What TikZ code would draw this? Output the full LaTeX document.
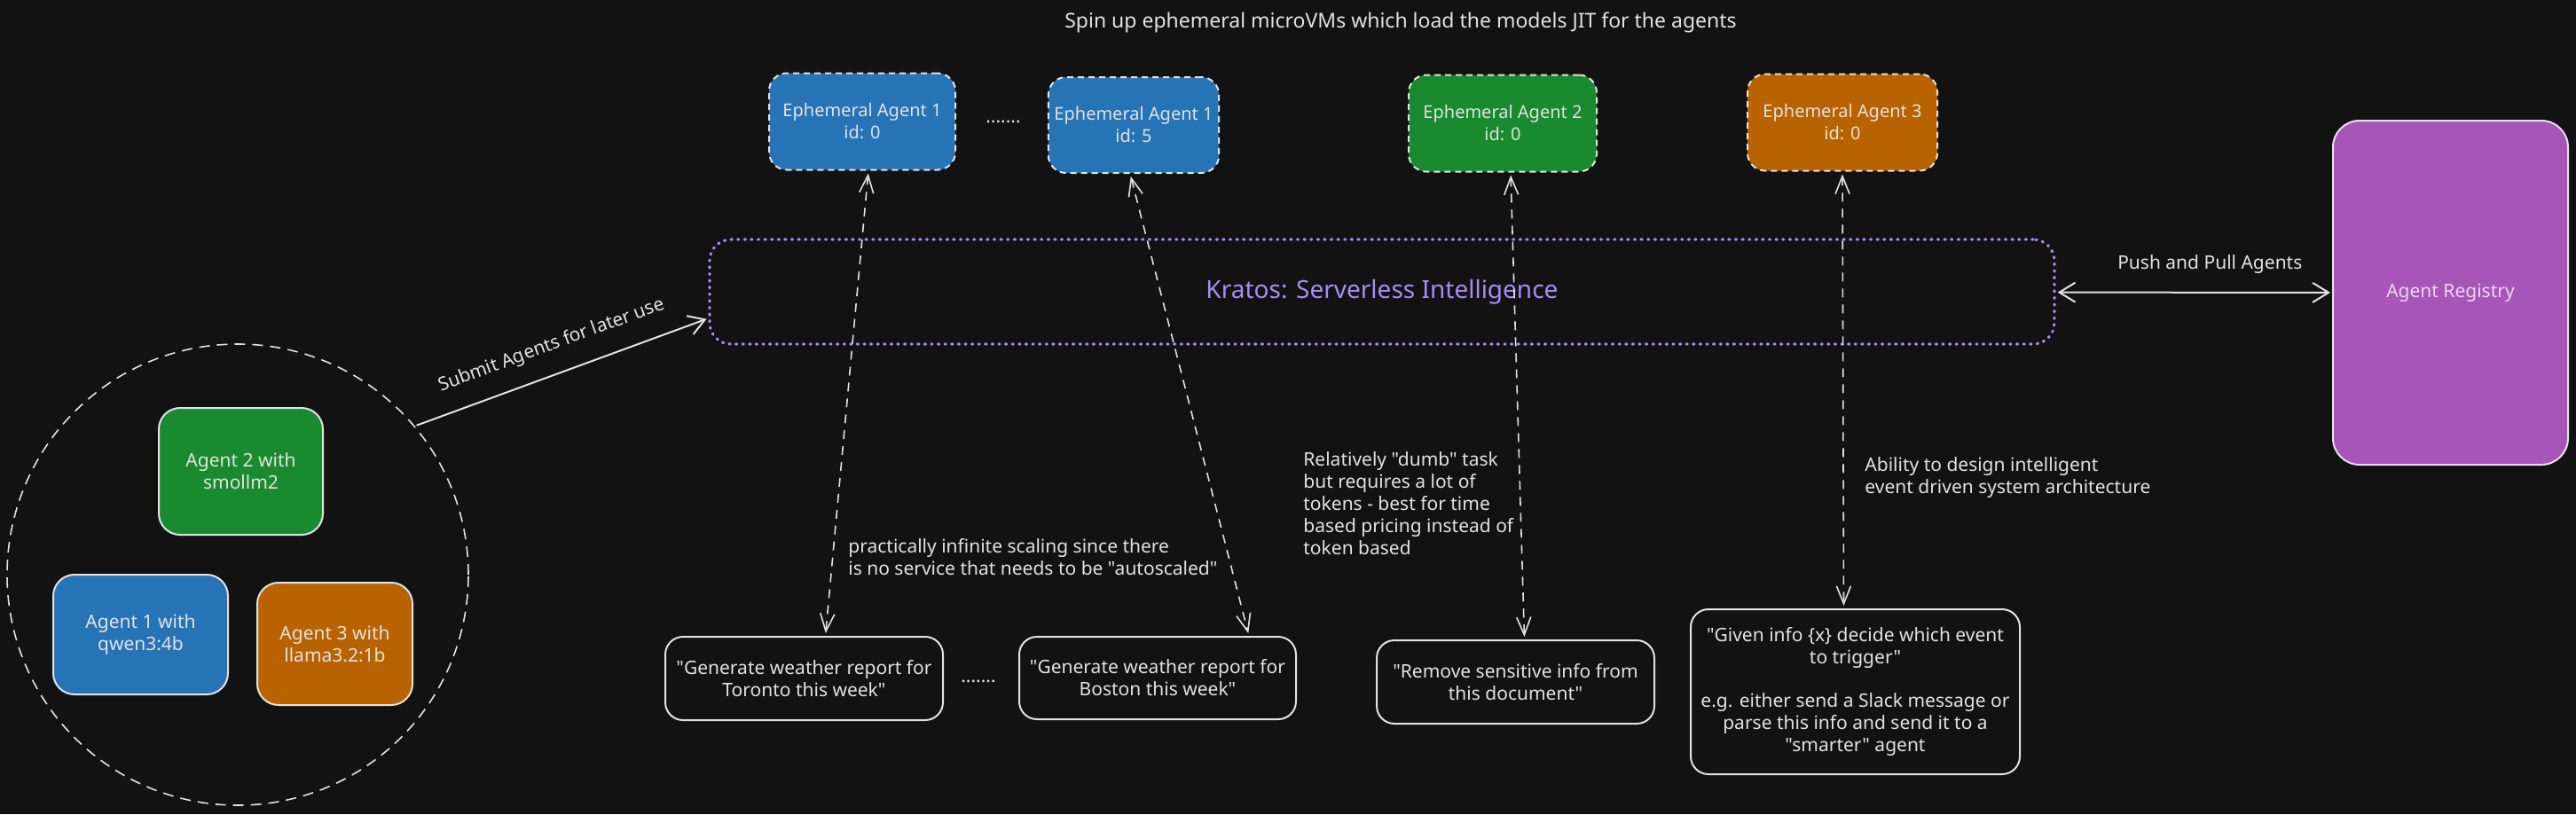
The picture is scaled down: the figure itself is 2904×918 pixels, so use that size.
\documentclass[tikz,border=0pt]{standalone}
\usepackage{fontspec}
\setmainfont{Noto Sans}[Ligatures=TeXOff]
\usetikzlibrary{arrows.meta}
\definecolor{bg}{HTML}{121212}
\definecolor{ink}{HTML}{E2E2E2}
\definecolor{ablue}{HTML}{2673B5}
\definecolor{agreen}{HTML}{198A2E}
\definecolor{aorange}{HTML}{B86200}
\definecolor{apurple}{HTML}{A855B8}
\definecolor{kviolet}{HTML}{A98BF5}
\definecolor{rtext}{HTML}{EBD7EF}

\begin{document}
\begin{tikzpicture}[x=0.5pt, y=-0.5pt,
    every node/.style={text=ink, font=\fontsize{10.5}{12.5}\selectfont},
    ebox/.style={draw=ink, line width=1pt, dash pattern=on 3.5pt off 2.5pt, rounded corners=10pt, align=center,
        font=\fontsize{10}{12.5}\selectfont},
    abox/.style={draw=ink, line width=1pt, rounded corners=12pt, align=center},
    task/.style={draw=ink, line width=1pt, rounded corners=10pt, align=center},
    note/.style={align=left, anchor=west, inner sep=0pt},
    flow/.style={draw=ink, line width=0.8pt, dash pattern=on 5pt off 4pt, shorten >=1.5pt, shorten <=1.5pt,
        {Straight Barb[length=10pt,width=8pt]}-{Straight Barb[length=10pt,width=8pt]}},
    link/.style={draw=ink, line width=1pt, shorten >=1pt, shorten <=1pt}]
    \useasboundingbox (0,0) rectangle (2904,918);
    \fill[bg] (0,0) rectangle (2904,918);

    \node[font=\fontsize{11.5}{14}\selectfont] (title) at (1579,25) {Spin up ephemeral microVMs which load the models JIT for the agents};

    \node[ebox, fill=ablue, minimum width=105pt, minimum height=54.5pt] (eph1a) at (972,137) {Ephemeral Agent 1\\id: 0};
    \node (dotsa) at (1131,137) {.......};
    \node[ebox, fill=ablue, minimum width=94pt, minimum height=54pt] (eph1b) at (1278,141) {Ephemeral Agent 1\\id: 5};
    \node[ebox, fill=agreen, minimum width=106pt, minimum height=54.5pt] (eph2) at (1694,139) {Ephemeral Agent 2\\id: 0};
    \node[ebox, fill=aorange, minimum width=107pt, minimum height=54.5pt] (eph3) at (2077,138) {Ephemeral Agent 3\\id: 0};

    \node[draw=kviolet, line width=1.6pt, line cap=round, dash pattern=on 0.6pt off 3.2pt, rounded corners=12pt,
        minimum width=758pt, minimum height=59pt, text=kviolet, font=\fontsize{14}{16}\selectfont] (kratos) at (1558,329) {Kratos: Serverless Intelligence};

    \node[draw=ink, line width=1pt, fill=apurple, rounded corners=15pt, minimum width=132.5pt, minimum height=194pt, text=rtext] (registry) at (2762.5,330) {Agent Registry};

    \node[circle, draw=ink, line width=0.8pt, dash pattern=on 6pt off 4pt, minimum size=260pt, inner sep=0pt] (pool) at (268,648) {};
    \node[abox, fill=agreen, minimum width=92.5pt, minimum height=71.5pt] (agent2) at (271.5,531.5) {Agent 2 with\\smollm2};
    \node[abox, fill=ablue, minimum width=98.5pt, minimum height=67.5pt] (agent1) at (158.5,715.5) {Agent 1 with\\qwen3:4b};
    \node[abox, fill=aorange, minimum width=87.5pt, minimum height=69pt] (agent3) at (377.5,726) {Agent 3 with\\llama3.2:1b};

    \node[task, minimum width=156.5pt, minimum height=47pt] (toronto) at (906.5,765) {"Generate weather report for\\Toronto this week"};
    \node (dotsb) at (1103,768) {.......};
    \node[task, minimum width=156pt, minimum height=46.5pt] (boston) at (1305,764.5) {"Generate weather report for\\Boston this week"};
    \node[task, minimum width=156.5pt, minimum height=47pt] (remove) at (1708.5,769) {"Remove sensitive info from\\this document"};
    \node[task, minimum width=185.5pt, minimum height=93pt] (given) at (2091.5,780) {"Given info \{x\} decide which event\\to trigger"\\[12pt]e.g. either send a Slack message or\\parse this info and send it to a\\"smarter" agent};

    \node[note] (scaling) at (956,628) {practically infinite scaling since there\\is no service that needs to be "autoscaled"};
    \node[note] (pricing) at (1469,567.5) {Relatively "dumb" task\\but requires a lot of\\tokens - best for time\\based pricing instead of\\token based};
    \node[note] (events) at (2102,539) {Ability to design intelligent\\event driven system architecture};

    \draw[flow] ([xshift=3.5pt]eph1a.south) -- ([xshift=12pt]toronto.north);
    \draw[flow] ([xshift=-2pt]eph1b.south) -- ([xshift=51.5pt]boston.north);
    \draw[flow] ([xshift=4.5pt]eph2.south) -- ([xshift=5pt]remove.north);
    \draw[flow] (eph3.south) -- ([xshift=-6.5pt]given.north);

    \draw[link, -{Straight Barb[length=9pt,width=11pt]}] (pool.40) -- ([yshift=-15pt]kratos.west)
        node[midway, sloped, above=7pt] (submit) {Submit Agents for later use};
    \draw[link, {Straight Barb[length=9pt,width=11pt]}-{Straight Barb[length=9pt,width=11pt]}] (kratos) -- (registry)
        node[midway, above=7pt, xshift=9pt] (push) {Push and Pull Agents};
\end{tikzpicture}
\end{document}
